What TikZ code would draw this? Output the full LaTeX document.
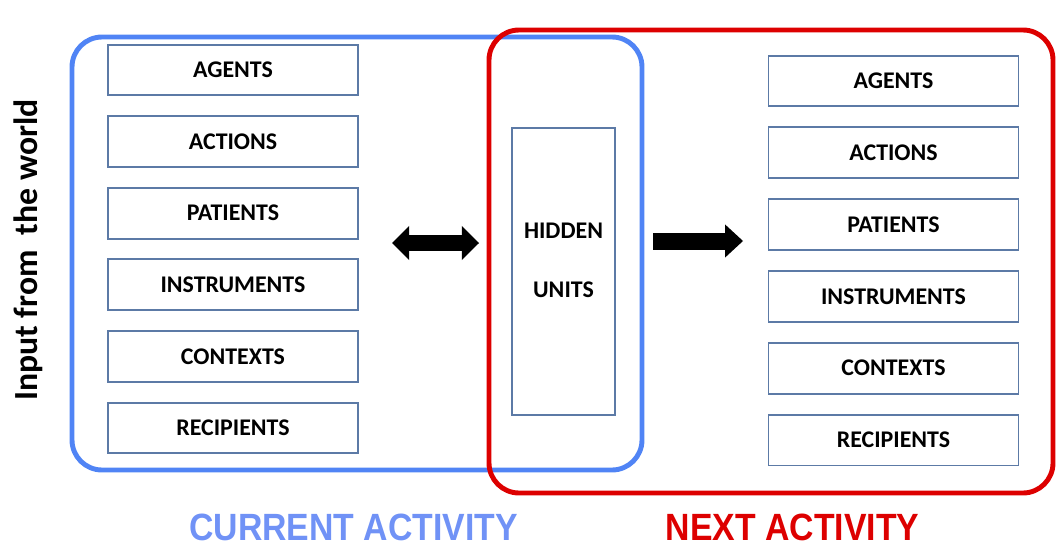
\documentclass[tikz,border=0pt]{standalone}
\usepackage{fontspec}
\setmainfont{Carlito}
\newfontfamily\arialfont{Liberation Sans}
\usetikzlibrary{arrows.meta,positioning,calc}
\definecolor{frameblue}{RGB}{80,132,245}
\definecolor{textblue}{RGB}{112,146,246}
\definecolor{framered}{RGB}{221,0,0}
\definecolor{boxline}{RGB}{92,122,166}

\begin{document}
\begin{tikzpicture}[x=0.025cm,y=-0.025cm,
  layerbox/.style={draw=boxline,line width=1.3pt,minimum width=6.25cm,minimum height=1.27cm,
    inner sep=0pt,font=\fontsize{17}{20}\selectfont\bfseries},
  hidbox/.style={draw=boxline,line width=1.3pt,minimum width=2.575cm,minimum height=7.175cm,inner sep=0pt},
  fatarrow/.style={line width=0.38cm},
  actlabel/.style={font=\arialfont\fontsize{27}{30}\selectfont\bfseries,xscale=0.89,inner sep=0pt}]
\useasboundingbox (0,0) rectangle (1057,546);

% the two activity frames
\draw[frameblue,line width=3.5pt,rounded corners=0.75cm] (72,37) rectangle (642,470);
\draw[framered,line width=3.5pt,rounded corners=0.75cm] (489,30) rectangle (1053,493);

% current activity
\foreach \lab [count=\i] in {AGENTS,ACTIONS,PATIENTS,INSTRUMENTS,CONTEXTS,RECIPIENTS}
  \node[layerbox] (cur\i) at (233,{70+71.6*(\i-1)}) {\lab};

% next activity
\foreach \lab [count=\i] in {AGENTS,ACTIONS,PATIENTS,INSTRUMENTS,CONTEXTS,RECIPIENTS}
  \node[layerbox] (nxt\i) at (893.5,{81+71.8*(\i-1)}) {\lab};

% hidden units
\node[hidbox] (hid) at (563.5,271.5) {};
\node[font=\fontsize{17}{20}\selectfont\bfseries,align=center] (hidtext) at (563.5,260)
  {HIDDEN\\[22pt]UNITS};

% arrows
\coordinate (dblA) at (392,243);
\coordinate (dblB) at (479,243);
\coordinate (nxtA) at (653,241);
\coordinate (nxtB) at (743,241);
\draw[fatarrow,{Triangle[length=0.43cm,width=0.85cm,line width=0pt 0]}-{Triangle[length=0.43cm,width=0.85cm,line width=0pt 0]}] (dblA) -- (dblB);
\draw[line width=0.425cm,-{Triangle[length=0.45cm,width=0.83cm,line width=0pt 0]}] (nxtA) -- (nxtB);

% labels
\node[rotate=90,font=\fontsize{24}{27}\selectfont\bfseries,inner sep=0pt] (world) at (28,250)
  {Input from\ \ the world};
\node[actlabel,textblue] (curlab) at (353.5,527) {CURRENT ACTIVITY};
\node[actlabel,framered] (nxtlab) at (792.5,527) {NEXT ACTIVITY};
\end{tikzpicture}
\end{document}
